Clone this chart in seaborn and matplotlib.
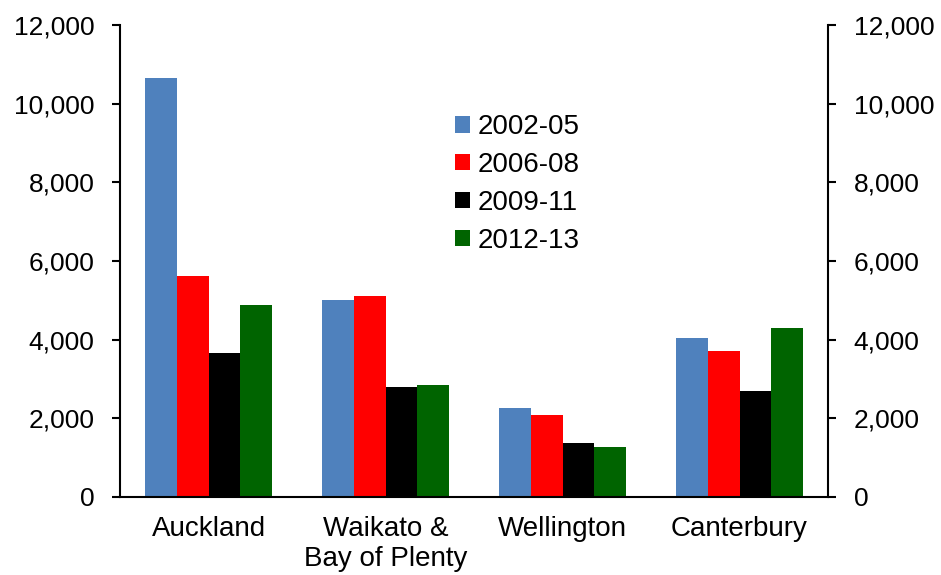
import pandas as pd
import matplotlib
matplotlib.use('Agg')
import matplotlib.pyplot as plt
import seaborn as sns
from matplotlib.ticker import FuncFormatter

# Data
regions = ['Auckland', 'Waikato &\nBay of Plenty', 'Wellington', 'Canterbury']
periods = ['2002-05', '2006-08', '2009-11', '2012-13']
v_2002_05 = [10650, 5010, 2260, 4040]
v_2006_08 = [5620, 5110, 2080, 3710]
v_2009_11 = [3660, 2800, 1370, 2700]
v_2012_13 = [4880, 2850, 1270, 4300]
colors = ['#4F81BD', '#FF0000', '#000000', '#006400']

df = pd.DataFrame({
    'region': regions * 4,
    'period': [p for p in periods for _ in regions],
    'value': v_2002_05 + v_2006_08 + v_2009_11 + v_2012_13,
})

sns.set_style('white')
plt.rcParams['font.family'] = ['Liberation Sans', 'DejaVu Sans']
plt.rcParams['text.color'] = 'black'

fig = plt.figure(figsize=(9.41, 5.75), dpi=100)
ax = fig.add_axes([120 / 941, 1 - 497 / 575, 708 / 941, 472 / 575])

sns.barplot(data=df, x='region', y='value', hue='period', palette=colors,
            width=0.72, saturation=1, ax=ax, linewidth=0)

ax.set_xlim(-0.5, 3.5)
ax.set_ylim(0, 12000)
ax.set_yticks(range(0, 12001, 2000))
ax.yaxis.set_major_formatter(FuncFormatter(lambda v, p: f'{int(v):,}'))
ax.set_xlabel('')
ax.set_ylabel('')

# spines
for s in ['left', 'right', 'bottom']:
    ax.spines[s].set_visible(True)
    ax.spines[s].set_color('black')
    ax.spines[s].set_linewidth(1.5)
ax.spines['top'].set_visible(False)

# y ticks on both sides
ax.yaxis.set_ticks_position('both')
ax.tick_params(axis='y', direction='out', length=5.5, width=1.5, labelsize=19,
               labelleft=True, labelright=True, pad=13, colors='black')

# x: labels at centres, tick marks at boundaries
ax.set_xticks([0, 1, 2, 3])
ax.set_xticks([-0.5, 0.5, 1.5, 2.5, 3.5], minor=True)
ax.tick_params(axis='x', which='major', length=0, labelsize=20, pad=14, colors='black')
ax.tick_params(axis='x', which='minor', direction='out', length=6, width=1.5, color='black')

leg = ax.legend(loc='upper left', bbox_to_anchor=(455 / 941, 1 - 114 / 575),
                bbox_transform=fig.transFigure, frameon=False, fontsize=20,
                handlelength=0.55, handleheight=0.55, handletextpad=0.28,
                labelspacing=0.43, borderpad=0, borderaxespad=0, labelcolor='black')

fig.savefig('out.png', dpi=100)
